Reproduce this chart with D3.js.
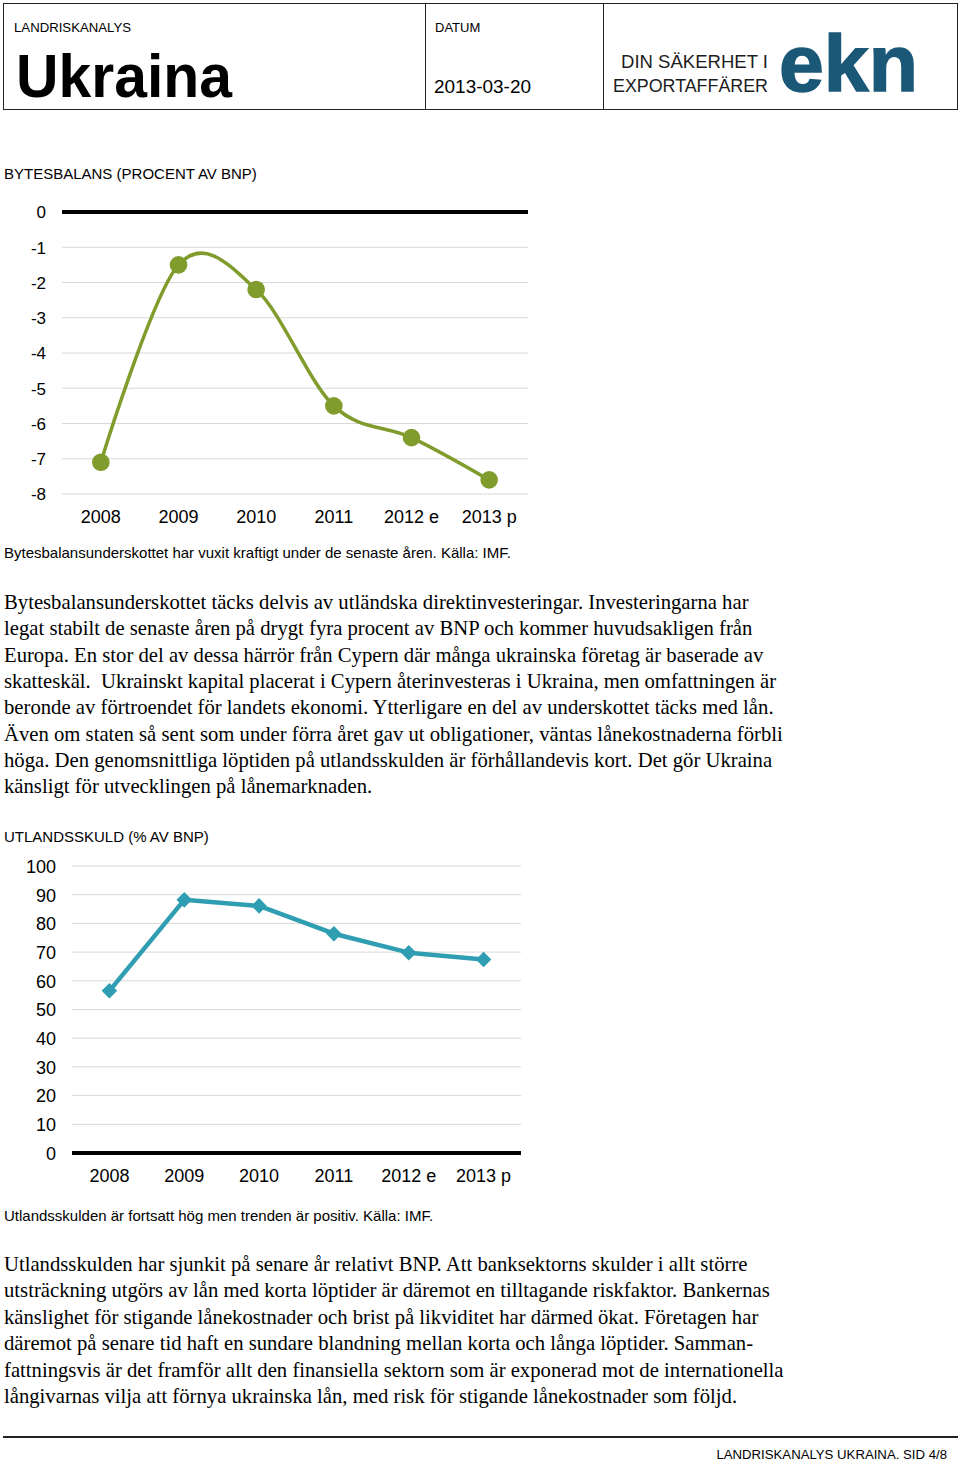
<!DOCTYPE html>
<html><head><meta charset="utf-8">
<script src="https://cdn.jsdelivr.net/npm/d3@7/dist/d3.min.js"></script>
<style>
html,body{margin:0;padding:0;background:#fff;}
svg{display:block;}
</style></head>
<body>
<script>
// ---- data ----
const categories = ["2008","2009","2010","2011","2012 e","2013 p"];
const bytesbalans = [-7.1,-1.5,-2.2,-5.5,-6.4,-7.6];
const bytesTicks = [0,-1,-2,-3,-4,-5,-6,-7,-8];
const utlandsskuld = [56.5,88.2,86.1,76.4,69.8,67.4];
const skuldTicks = [0,10,20,30,40,50,60,70,80,90,100];

const para1 = [
"Bytesbalansunderskottet täcks delvis av utländska direktinvesteringar. Investeringarna har",
"legat stabilt de senaste åren på drygt fyra procent av BNP och kommer huvudsakligen från",
"Europa. En stor del av dessa härrör från Cypern där många ukrainska företag är baserade av",
"skatteskäl.  Ukrainskt kapital placerat i Cypern återinvesteras i Ukraina, men omfattningen är",
"beronde av förtroendet för landets ekonomi. Ytterligare en del av underskottet täcks med lån.",
"Även om staten så sent som under förra året gav ut obligationer, väntas lånekostnaderna förbli",
"höga. Den genomsnittliga löptiden på utlandsskulden är förhållandevis kort. Det gör Ukraina",
"känsligt för utvecklingen på lånemarknaden."
];
const para2 = [
"Utlandsskulden har sjunkit på senare år relativt BNP. Att banksektorns skulder i allt större",
"utsträckning utgörs av lån med korta löptider är däremot en tilltagande riskfaktor. Bankernas",
"känslighet för stigande lånekostnader och brist på likviditet har därmed ökat. Företagen har",
"däremot på senare tid haft en sundare blandning mellan korta och långa löptider. Samman-",
"fattningsvis är det framför allt den finansiella sektorn som är exponerad mot de internationella",
"långivarnas vilja att förnya ukrainska lån, med risk för stigande lånekostnader som följd."
];

const W = 960, H = 1462;
const sans = "Liberation Sans, Arial, sans-serif";
const serif = "Liberation Serif, Times New Roman, serif";
const svg = d3.select("body").append("svg").attr("width", W).attr("height", H);

// ---- header ----
const hdr = svg.append("g");
hdr.append("rect").attr("x",3.5).attr("y",3.5).attr("width",954).attr("height",106)
  .attr("fill","none").attr("stroke","#222").attr("stroke-width",1);
hdr.append("line").attr("x1",425.5).attr("x2",425.5).attr("y1",3.5).attr("y2",109.5).attr("stroke","#222");
hdr.append("line").attr("x1",603.5).attr("x2",603.5).attr("y1",3.5).attr("y2",109.5).attr("stroke","#222");
hdr.append("text").attr("x",14).attr("y",32).attr("font-family",sans).attr("font-size",13)
  .attr("textLength",117).attr("lengthAdjust","spacingAndGlyphs").text("LANDRISKANALYS");
hdr.append("text").attr("x",16).attr("y",97).attr("font-family",sans).attr("font-weight","bold")
  .attr("font-size",62).attr("textLength",216).attr("lengthAdjust","spacingAndGlyphs").text("Ukraina");
hdr.append("text").attr("x",435).attr("y",32).attr("font-family",sans).attr("font-size",13).text("DATUM");
hdr.append("text").attr("x",434).attr("y",93).attr("font-family",sans).attr("font-size",19)
  .attr("textLength",97).attr("lengthAdjust","spacingAndGlyphs").text("2013-03-20");
hdr.append("text").attr("x",768).attr("y",68).attr("text-anchor","end").attr("font-family",sans).attr("font-size",19)
  .attr("fill","#1d1d1d").attr("textLength",147).attr("lengthAdjust","spacingAndGlyphs").text("DIN SÄKERHET I");
hdr.append("text").attr("x",613).attr("y",92).attr("font-family",sans).attr("font-size",19)
  .attr("fill","#1d1d1d").attr("textLength",155).attr("lengthAdjust","spacingAndGlyphs").text("EXPORTAFFÄRER");
hdr.append("text").attr("x",779).attr("y",91).attr("font-family",sans).attr("font-weight","bold").attr("font-size",80)
  .attr("fill","#1b5877").attr("stroke","#1b5877").attr("stroke-width",1.5)
  .attr("textLength",139).attr("lengthAdjust","spacingAndGlyphs").text("ekn");

// ---- chart helper ----
function chart(opts){
  const g = svg.append("g");
  g.append("text").attr("x",4).attr("y",opts.titleY).attr("font-family",sans).attr("font-size",15).text(opts.title);
  const x = d3.scaleBand().domain(categories).range([opts.x0, opts.x1]);
  const y = d3.scaleLinear().domain(opts.domain).range([opts.yBottom, opts.yTop]);
  // grid
  g.selectAll("line.grid").data(opts.ticks.filter(t=>t!==0)).join("line")
    .attr("x1",opts.x0).attr("x2",opts.x1).attr("y1",d=>y(d)).attr("y2",d=>y(d))
    .attr("stroke","#d9d9d9").attr("stroke-width",1);
  // zero line
  g.append("line").attr("x1",opts.x0).attr("x2",opts.x1).attr("y1",y(0)).attr("y2",y(0))
    .attr("stroke","#000").attr("stroke-width",4);
  // y axis labels
  const ya = d3.axisLeft(y).tickValues(opts.ticks).tickSize(0).tickPadding(0).tickFormat(d => String(d));
  const yg = g.append("g").attr("transform",`translate(${opts.yLabelX},0)`).call(ya);
  yg.select(".domain").remove();
  yg.selectAll("text").attr("font-family",sans).attr("font-size",opts.yFont).attr("fill","#000").attr("dy","0.35em");
  // x axis labels
  const xa = d3.axisBottom(x).tickSize(0).tickPadding(0);
  const xg = g.append("g").attr("transform",`translate(0,${opts.xLabelY})`).call(xa);
  xg.select(".domain").remove();
  xg.selectAll("text").attr("font-family",sans).attr("font-size",18).attr("fill","#000").attr("dy","0");
  // line
  const cx = d => x(d) + x.bandwidth()/2;
  const line = d3.line().x((d,i)=>cx(categories[i])).y(d=>y(d)).curve(opts.curve);
  g.append("path").datum(opts.values).attr("d",line).attr("fill","none")
    .attr("stroke",opts.color).attr("stroke-width",opts.lw).attr("stroke-linejoin","round");
  // markers
  const sym = d3.symbol().type(opts.symbol).size(opts.symSize);
  g.selectAll("path.m").data(opts.values).join("path").attr("class","m")
    .attr("d",sym).attr("transform",(d,i)=>`translate(${cx(categories[i])},${y(d)}) rotate(${opts.rot||0})`)
    .attr("fill",opts.color);
  // caption
  g.append("text").attr("x",4).attr("y",opts.capY).attr("font-family",sans).attr("font-size",15).text(opts.caption);
}

chart({
  title:"BYTESBALANS (PROCENT AV BNP)", titleY:179,
  x0:62, x1:528, yTop:212, yBottom:494, domain:[-8,0], ticks:bytesTicks,
  yLabelX:46, yFont:17, xLabelY:523, values:bytesbalans, color:"#7f9c2d", lw:3.5,
  curve:d3.curveCardinal.tension(0), symbol:d3.symbolCircle, symSize:Math.PI*8.8*8.8,
  caption:"Bytesbalansunderskottet har vuxit kraftigt under de senaste åren. Källa: IMF.", capY:558
});

chart({
  title:"UTLANDSSKULD (% AV BNP)", titleY:842,
  x0:72, x1:521, yTop:866, yBottom:1153, domain:[0,100], ticks:skuldTicks,
  yLabelX:56, yFont:18, xLabelY:1182, values:utlandsskuld, color:"#2f9db2", lw:4.5,
  curve:d3.curveLinear, symbol:d3.symbolSquare, symSize:11*11, rot:45,
  caption:"Utlandsskulden är fortsatt hög men trenden är positiv. Källa: IMF.", capY:1221
});

// ---- body text ----
function para(lines, y0, lh){
  svg.append("g").selectAll("text").data(lines).join("text")
    .attr("x",4).attr("y",(d,i)=>y0+i*lh).attr("font-family",serif).attr("font-size",20.7)
    .attr("xml:space","preserve").style("white-space","pre").text(d=>d);
}
para(para1, 609, 26.3);
para(para2, 1271, 26.4);

// ---- footer ----
svg.append("line").attr("x1",3).attr("x2",958).attr("y1",1437).attr("y2",1437).attr("stroke","#222").attr("stroke-width",2);
svg.append("text").attr("x",947).attr("y",1459).attr("text-anchor","end").attr("font-family",sans).attr("font-size",13.2)
  .text("LANDRISKANALYS UKRAINA. SID 4/8");
</script>
</body></html>
